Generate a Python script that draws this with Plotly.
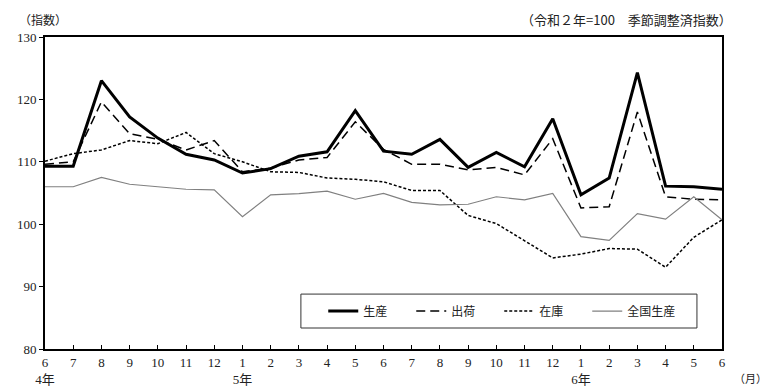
import plotly.graph_objects as go

months = [6, 7, 8, 9, 10, 11, 12, 1, 2, 3, 4, 5, 6, 7, 8, 9, 10, 11, 12, 1, 2, 3, 4, 5, 6]
year_labels = {0: "4年", 7: "5年", 19: "6年"}

seisan = [109.3, 109.3, 123.0, 117.2, 113.8, 111.2, 110.3, 108.2, 108.9, 110.9, 111.6, 118.2,
          111.7, 111.2, 113.6, 109.1, 111.5, 109.2, 116.9, 104.7, 107.4, 124.3, 106.1, 106.0, 105.6]
shukka = [109.6, 110.0, 119.6, 114.5, 113.6, 111.9, 113.4, 108.4, 109.0, 110.3, 110.7, 116.4,
          112.0, 109.6, 109.6, 108.7, 109.1, 107.9, 113.7, 102.6, 102.8, 118.0, 104.4, 104.0, 103.9]
zaiko = [110.1, 111.3, 111.9, 113.4, 112.9, 114.7, 111.3, 110.0, 108.4, 108.3, 107.4, 107.2,
         106.8, 105.4, 105.4, 101.4, 100.1, 97.4, 94.6, 95.2, 96.1, 96.0, 93.1, 97.9, 100.7]
zenkoku = [106.0, 106.0, 107.5, 106.4, 106.0, 105.6, 105.5, 101.2, 104.7, 104.9, 105.3, 104.0,
           104.95, 103.5, 103.1, 103.2, 104.4, 103.9, 104.95, 98.0, 97.4, 101.7, 100.8, 104.4, 100.7]

series_names = ["生産", "出荷", "在庫", "全国生産"]

x = list(range(len(months)))
ticktext = [f"{m}<br>{year_labels[i]}" if i in year_labels else f"{m}<br> " for i, m in enumerate(months)]

fig = go.Figure()
fig.add_trace(go.Scatter(x=x, y=seisan, mode="lines", name=series_names[0],
                         line=dict(color="black", width=3)))
fig.add_trace(go.Scatter(x=x, y=shukka, mode="lines", name=series_names[1],
                         line=dict(color="black", width=1.5, dash="9px,5px")))
fig.add_trace(go.Scatter(x=x, y=zaiko, mode="lines", name=series_names[2],
                         line=dict(color="black", width=1.5, dash="3px,2px")))
fig.add_trace(go.Scatter(x=x, y=zenkoku, mode="lines", name=series_names[3],
                         line=dict(color="#808080", width=1.2)))

tickfont = dict(family="Liberation Serif, Noto Sans CJK JP", size=13, color="#222")

fig.update_layout(
    width=769, height=391,
    margin=dict(l=45, r=47, t=37, b=42, autoexpand=False),
    plot_bgcolor="white", paper_bgcolor="white",
    showlegend=True,
    legend=dict(orientation="h", x=0.411, y=0.168, xanchor="left", yanchor="top",
                borderwidth=0, bgcolor="rgba(0,0,0,0)",
                font=dict(family="Noto Sans CJK JP", size=12, color="#222"),
                entrywidth=43, itemwidth=30, tracegroupgap=0),
    font=dict(family="Noto Sans CJK JP", size=12, color="#222"),
    shapes=[dict(type="rect", xref="paper", yref="paper",
                 x0=0.378, x1=0.963, y0=0.0673, y1=0.176,
                 line=dict(color="#333", width=1), fillcolor="white", layer="below")],
)
fig.update_xaxes(range=[0, 24], tickmode="array", tickvals=x, ticktext=ticktext,
                 showline=True, linecolor="black", linewidth=2, mirror=True, automargin=False,
                 ticks="inside", ticklen=4, tickcolor="black", showgrid=False, zeroline=False,
                 tickfont=tickfont)
fig.update_yaxes(range=[80, 130], tickvals=[80, 90, 100, 110, 120, 130], automargin=False,
                 showline=True, linecolor="black", linewidth=2, mirror=True,
                 ticks="outside", ticklen=4, tickcolor="black", showgrid=False, zeroline=False,
                 tickfont=tickfont)

fig.add_annotation(text="（指数）", xref="paper", yref="paper", x=-0.042, y=1.0, yshift=18,
                   xanchor="left", yanchor="middle", showarrow=False,
                   font=dict(family="Noto Sans CJK JP", size=12, color="#222"))
fig.add_annotation(text="（令和２年=100　季節調整済指数）", xref="paper", yref="paper", x=1.018, y=1.0,
                   yshift=18, xanchor="right", yanchor="middle", showarrow=False,
                   font=dict(family="Noto Sans CJK JP", size=13, color="#222"))
fig.add_annotation(text="（月）", xref="paper", yref="paper", x=1.0, y=0, xshift=10, yshift=-29,
                   xanchor="left", yanchor="middle", showarrow=False,
                   font=dict(family="Noto Sans CJK JP", size=11, color="#222"))

fig.write_html("out.html", config={"displayModeBar": False},
               post_script="document.body.style.margin='0';document.body.style.overflow='hidden';")
